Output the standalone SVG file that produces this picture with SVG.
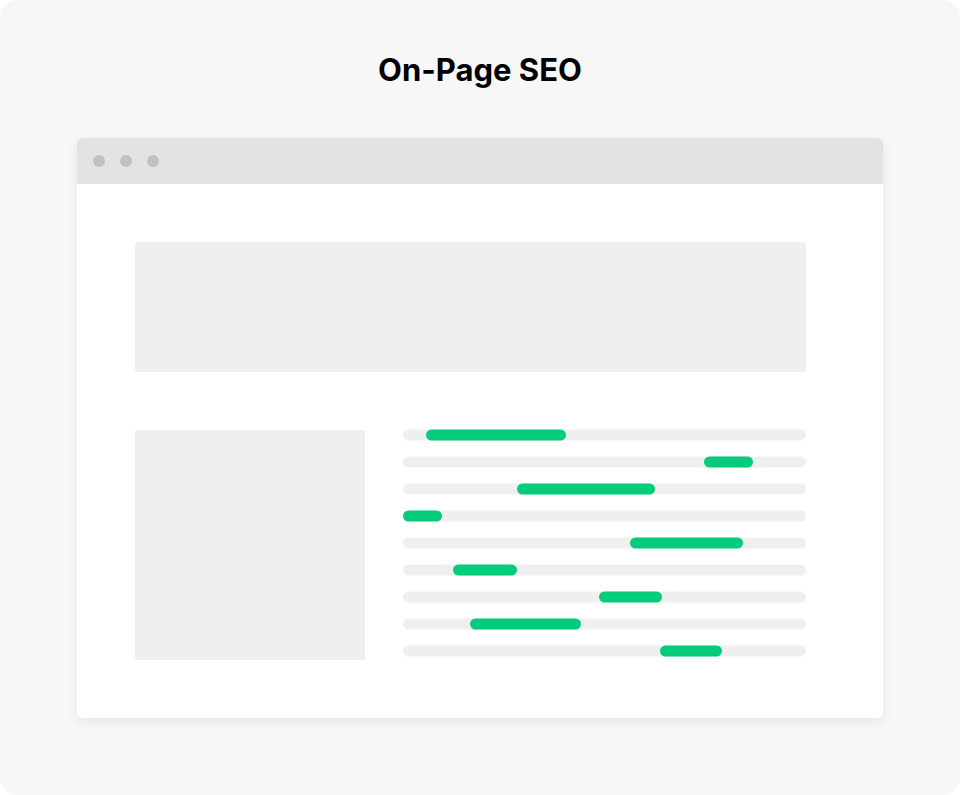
<svg xmlns="http://www.w3.org/2000/svg" width="960" height="795" viewBox="0 0 960 795">
<style>
.title{font-family:Inter,"Liberation Sans",sans-serif;font-weight:700;font-size:31px;fill:#000}
.dot{fill:#c0c0c0}
.block{fill:#efefef}
.line{fill:#efefef}
.hl{fill:#05cc7a}
</style>
<defs>
<filter id="sh" x="-10%" y="-10%" width="120%" height="125%">
<feDropShadow dx="0" dy="4" stdDeviation="6" flood-color="#000" flood-opacity="0.07"/>
</filter>
</defs>
<rect width="960" height="795" fill="#ffffff"/>
<rect x="0" y="0" width="960" height="795" rx="18" fill="#f7f7f7"/>
<text class="title" x="480" y="81" text-anchor="middle">On-Page SEO</text>
<g id="window">
<rect x="77" y="138" width="806" height="580" rx="6" fill="#ffffff" filter="url(#sh)"/>
<path d="M83 138 H877 A6 6 0 0 1 883 144 V184 H77 V144 A6 6 0 0 1 83 138 Z" fill="#e3e3e3"/>
<circle class="dot" cx="99" cy="161" r="6"/>
<circle class="dot" cx="126" cy="161" r="6"/>
<circle class="dot" cx="153" cy="161" r="6"/>
</g>
<g id="hero"><rect class="block" x="135" y="242" width="671" height="130" rx="3"/></g>
<g id="image"><rect class="block" x="135" y="430" width="230" height="230" rx="3"/></g>
<g id="lines">
<rect class="line" x="403" y="429.5" width="403" height="11" rx="5.5"/>
<rect class="line" x="403" y="456.5" width="403" height="11" rx="5.5"/>
<rect class="line" x="403" y="483.5" width="403" height="11" rx="5.5"/>
<rect class="line" x="403" y="510.5" width="403" height="11" rx="5.5"/>
<rect class="line" x="403" y="537.5" width="403" height="11" rx="5.5"/>
<rect class="line" x="403" y="564.5" width="403" height="11" rx="5.5"/>
<rect class="line" x="403" y="591.5" width="403" height="11" rx="5.5"/>
<rect class="line" x="403" y="618.5" width="403" height="11" rx="5.5"/>
<rect class="line" x="403" y="645.5" width="403" height="11" rx="5.5"/>
<rect class="hl" x="426" y="429.5" width="140" height="11" rx="5.5"/>
<rect class="hl" x="704" y="456.5" width="49" height="11" rx="5.5"/>
<rect class="hl" x="517" y="483.5" width="138" height="11" rx="5.5"/>
<rect class="hl" x="403" y="510.5" width="39" height="11" rx="5.5"/>
<rect class="hl" x="630" y="537.5" width="113" height="11" rx="5.5"/>
<rect class="hl" x="453" y="564.5" width="64" height="11" rx="5.5"/>
<rect class="hl" x="599" y="591.5" width="63" height="11" rx="5.5"/>
<rect class="hl" x="470" y="618.5" width="111" height="11" rx="5.5"/>
<rect class="hl" x="660" y="645.5" width="62" height="11" rx="5.5"/>
</g>
</svg>
